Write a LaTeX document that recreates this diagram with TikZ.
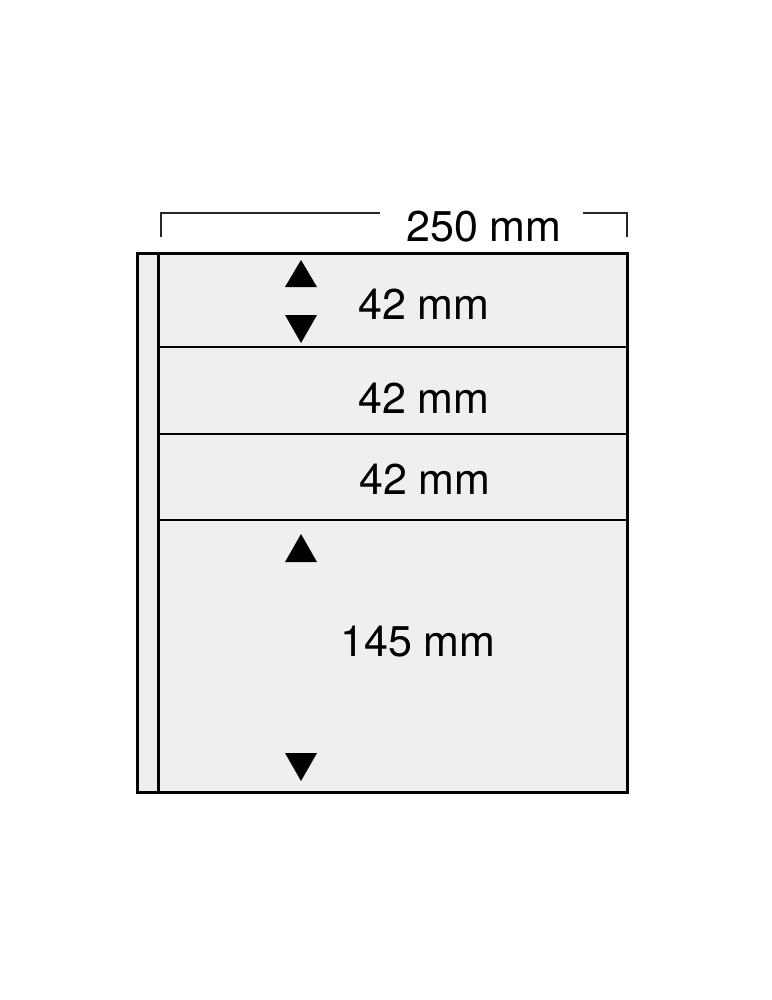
\documentclass[tikz,border=0pt]{standalone}
\usepackage{fontspec}
\setmainfont{TeX Gyre Heros}
\definecolor{sheet}{HTML}{EFEFEF}
\tikzset{
  lbl/.style={anchor=base west, inner sep=0pt, font=\fontsize{43}{43}\selectfont},
  thick border/.style={line width=3pt},
  thin rule/.style={line width=1.6pt},
  tri/.style={fill=black, draw=none},
  dimline/.style={line width=1.4pt, black!85}
}
\begin{document}
\begin{tikzpicture}[x=1pt,y=-1pt]
\useasboundingbox (0,0) rectangle (771,1000);
% sheet
\fill[sheet] (137,253) rectangle (627,792);
\draw[thin rule] (158,347) -- (627,347);
\draw[thin rule] (158,434) -- (627,434);
\draw[thin rule] (158,520) -- (627,520);
\draw[thick border] (158,253) -- (158,792);
\draw[thick border] (137,253) rectangle (627,792);
% dimension
\draw[dimline] (161,237) -- (161,213) -- (380,213);
\draw[dimline] (583,213) -- (627,213) -- (627,237);
\node[lbl] (w) at (406,241) {250 mm};
% labels
\node[lbl] (r1) at (358,319) {42 mm};
\node[lbl] (r2) at (358,413) {42 mm};
\node[lbl] (r3) at (359,494) {42 mm};
\node[lbl] (r4) at (340,656) {145 mm};
% triangles
\fill[tri] (285,287) -- (317,287) -- (301,260) -- cycle;
\fill[tri] (285,315) -- (317,315) -- (301,343) -- cycle;
\fill[tri] (285,562) -- (317,562) -- (301,534) -- cycle;
\fill[tri] (285,753) -- (317,753) -- (301,781) -- cycle;
\end{tikzpicture}
\end{document}
